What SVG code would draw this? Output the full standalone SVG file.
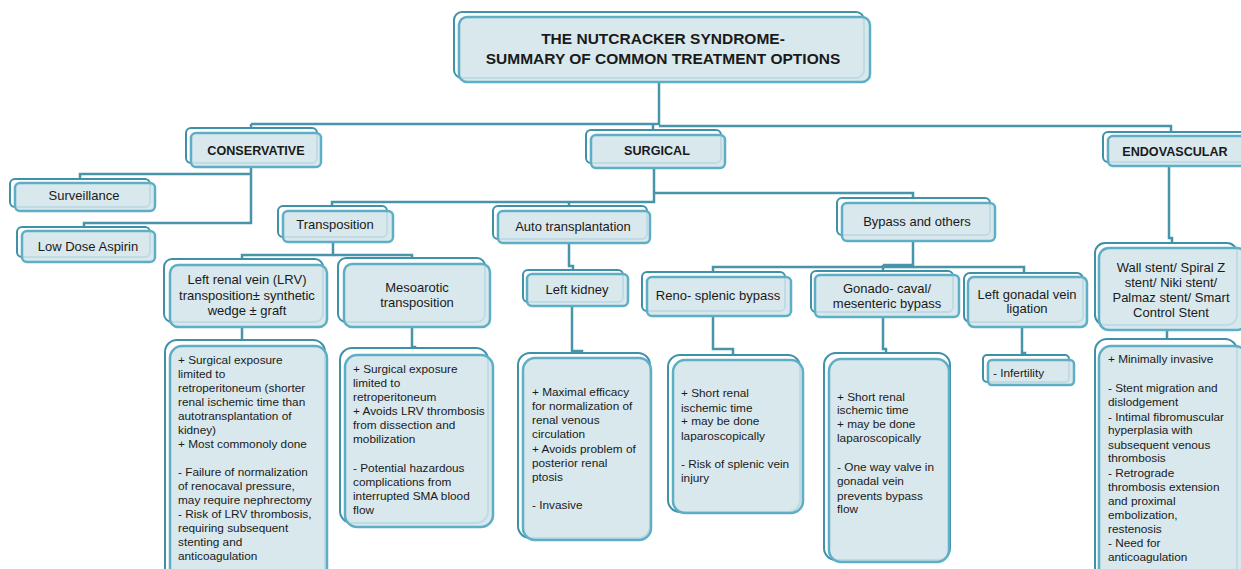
<svg xmlns="http://www.w3.org/2000/svg" width="1241" height="569" viewBox="0 0 1241 569">
<style>
.b{fill:#ffffff;stroke:#3f91a8;stroke-width:2}
.f{fill:#d3e5eb;fill-opacity:0.88;stroke:#5eaec6;stroke-width:2.5}
.c{fill:none;stroke:#4794ab;stroke-width:2.5}
text{font-family:"Liberation Sans",Arial,sans-serif;fill:#1a1a1a}
.h{font-size:15.5px;font-weight:bold;text-anchor:middle}
.k{font-size:12.6px;font-weight:bold;text-anchor:middle}
.n{font-size:13px;text-anchor:middle}
.d{font-size:11.8px}
</style>
<g id="connectors">
<path class="c" d="M659,82 V125"/>
<path class="c" d="M251,124 H659"/>
<path class="c" d="M659,126 H1171 V132"/>
<path class="c" d="M653,124 V130"/>
<path class="c" d="M251,124 V128"/>
<path class="c" d="M251,167 V223 H84 V227"/>
<path class="c" d="M251,174 H80 V179"/>
<path class="c" d="M654,168 V202 H332 V206"/>
<path class="c" d="M569,202 V206"/>
<path class="c" d="M654,193 H913 V198"/>
<path class="c" d="M333,242 V255 H242 V259"/>
<path class="c" d="M333,255 H412 V258"/>
<path class="c" d="M242,327 V340"/>
<path class="c" d="M412,327 V347 H415 V348"/>
<path class="c" d="M569,243 V266 H573 V270"/>
<path class="c" d="M572,306 V351 H582 V353"/>
<path class="c" d="M913,241 V267 H713 V272"/>
<path class="c" d="M913,267 H1024 V273"/>
<path class="c" d="M883,265 H913"/>
<path class="c" d="M883,265 V271"/>
<path class="c" d="M713,316 V349 H733 V355"/>
<path class="c" d="M883,317 V349 H886 V353"/>
<path class="c" d="M1022,327 V353 H1025 V355"/>
<path class="c" d="M1169,166 V238 H1172 V243"/>
<path class="c" d="M1167,330 V339"/>
</g>
<g id="title">
<rect class="b" x="454" y="12" width="410" height="66" rx="8"/>
<rect class="f" x="459" y="17" width="411" height="65" rx="8"/>
<text class="h" x="663" y="44">THE NUTCRACKER SYNDROME-</text>
<text class="h" x="663" y="64">SUMMARY OF COMMON TREATMENT OPTIONS</text>
</g>
<g id="conservative">
<rect class="b" x="186" y="128" width="131" height="35" rx="5"/>
<rect class="f" x="191" y="133" width="130" height="34" rx="5"/>
<text class="k" x="256" y="155">CONSERVATIVE</text>
</g>
<g id="surveillance">
<rect class="b" x="10" y="179" width="140" height="28" rx="5"/>
<rect class="f" x="15" y="183" width="140" height="28" rx="5"/>
<text class="n" x="84" y="200">Surveillance</text>
</g>
<g id="aspirin">
<rect class="b" x="17" y="227" width="133" height="30" rx="5"/>
<rect class="f" x="22" y="231" width="133" height="31" rx="5"/>
<text class="n" x="88" y="251">Low Dose Aspirin</text>
</g>
<g id="surgical">
<rect class="b" x="586" y="130" width="135" height="33" rx="5"/>
<rect class="f" x="591" y="135" width="134" height="33" rx="5"/>
<text class="k" x="657" y="155">SURGICAL</text>
</g>
<g id="endovascular">
<rect class="b" x="1103" y="132" width="145" height="30" rx="5"/>
<rect class="f" x="1108" y="136" width="145" height="30" rx="5"/>
<text class="k" x="1175" y="156">ENDOVASCULAR</text>
</g>
<g id="transposition">
<rect class="b" x="278" y="206" width="109" height="31" rx="5"/>
<rect class="f" x="283" y="211" width="110" height="31" rx="5"/>
<text class="n" x="335" y="229">Transposition</text>
</g>
<g id="autotransplantation">
<rect class="b" x="493" y="206" width="154" height="33" rx="5"/>
<rect class="f" x="498" y="211" width="152" height="32" rx="5"/>
<text class="n" x="573" y="231">Auto transplantation</text>
</g>
<g id="bypass">
<rect class="b" x="837" y="198" width="153" height="37" rx="5"/>
<rect class="f" x="842" y="203" width="153" height="38" rx="5"/>
<text class="n" x="917" y="226">Bypass and others</text>
</g>
<g id="lrv">
<rect class="b" x="164" y="259" width="159" height="63" rx="8"/>
<rect class="f" x="170" y="265" width="157" height="62" rx="8"/>
<text class="n" x="247" y="284">Left renal vein (LRV)</text>
<text class="n" x="247" y="300">transposition± synthetic</text>
<text class="n" x="247" y="315">wedge ± graft</text>
</g>
<g id="mesoarotic">
<rect class="b" x="338" y="258" width="147" height="64" rx="8"/>
<rect class="f" x="344" y="264" width="146" height="63" rx="8"/>
<text class="n" x="417" y="292">Mesoarotic</text>
<text class="n" x="417" y="307">transposition</text>
</g>
<g id="leftkidney">
<rect class="b" x="523" y="270" width="100" height="32" rx="5"/>
<rect class="f" x="527" y="274" width="101" height="32" rx="5"/>
<text class="n" x="577" y="294">Left kidney</text>
</g>
<g id="renosplenic">
<rect class="b" x="642" y="272" width="143" height="39" rx="5"/>
<rect class="f" x="647" y="277" width="144" height="39" rx="5"/>
<text class="n" x="718" y="300">Reno- splenic bypass</text>
</g>
<g id="gonadocaval">
<rect class="b" x="811" y="271" width="142" height="41" rx="5"/>
<rect class="f" x="815" y="275" width="144" height="42" rx="5"/>
<text class="n" x="887" y="293">Gonado- caval/</text>
<text class="n" x="887" y="308">mesenteric bypass</text>
</g>
<g id="leftgonadal">
<rect class="b" x="964" y="273" width="119" height="49" rx="6"/>
<rect class="f" x="968" y="277" width="119" height="50" rx="6"/>
<text class="n" x="1027" y="299">Left gonadal vein</text>
<text class="n" x="1027" y="313">ligation</text>
</g>
<g id="wallstent">
<rect class="b" x="1095" y="243" width="142" height="82" rx="10"/>
<rect class="f" x="1099" y="248" width="148" height="82" rx="10"/>
<text class="n" x="1171" y="272">Wall stent/ Spiral Z</text>
<text class="n" x="1171" y="287">stent/ Niki stent/</text>
<text class="n" x="1171" y="302">Palmaz stent/ Smart</text>
<text class="n" x="1171" y="317">Control Stent</text>
</g>
<g id="lrv-details">
<rect class="b" x="165" y="340" width="160" height="240" rx="12"/>
<rect class="f" x="170" y="346" width="157" height="240" rx="12"/>
<text class="d" x="178" y="364">+ Surgical exposure</text>
<text class="d" x="178" y="378">limited to</text>
<text class="d" x="178" y="392">retroperitoneum (shorter</text>
<text class="d" x="178" y="406">renal ischemic time than</text>
<text class="d" x="178" y="420">autotransplantation  of</text>
<text class="d" x="178" y="434">kidney)</text>
<text class="d" x="178" y="448">+ Most commonoly done</text>
<text class="d" x="178" y="476">- Failure of normalization</text>
<text class="d" x="178" y="490">of renocaval pressure,</text>
<text class="d" x="178" y="504">may require nephrectomy</text>
<text class="d" x="178" y="518">- Risk of LRV thrombosis,</text>
<text class="d" x="178" y="532">requiring subsequent</text>
<text class="d" x="178" y="546">stenting and</text>
<text class="d" x="178" y="560">anticoagulation</text>
</g>
<g id="mesoarotic-details">
<rect class="b" x="340" y="348" width="148" height="175" rx="12"/>
<rect class="f" x="345" y="355" width="148" height="172" rx="12"/>
<text class="d" x="353" y="373">+ Surgical exposure</text>
<text class="d" x="353" y="387">limited to</text>
<text class="d" x="353" y="401">retroperitoneum</text>
<text class="d" x="353" y="415">+ Avoids LRV thrombosis</text>
<text class="d" x="353" y="429">from dissection and</text>
<text class="d" x="353" y="443">mobilization</text>
<text class="d" x="353" y="472">- Potential hazardous</text>
<text class="d" x="353" y="486">complications from</text>
<text class="d" x="353" y="500">interrupted SMA blood</text>
<text class="d" x="353" y="514">flow</text>
</g>
<g id="leftkidney-details">
<rect class="b" x="518" y="353" width="132" height="185" rx="12"/>
<rect class="f" x="523" y="358" width="128" height="182" rx="12"/>
<text class="d" x="532" y="396">+ Maximal efficacy</text>
<text class="d" x="532" y="410">for normalization  of</text>
<text class="d" x="532" y="424">renal venous</text>
<text class="d" x="532" y="438">circulation</text>
<text class="d" x="532" y="453">+ Avoids problem of</text>
<text class="d" x="532" y="467">posterior renal</text>
<text class="d" x="532" y="481">ptosis</text>
<text class="d" x="532" y="509">- Invasive</text>
</g>
<g id="renosplenic-details">
<rect class="b" x="668" y="355" width="132" height="157" rx="12"/>
<rect class="f" x="673" y="360" width="130" height="153" rx="12"/>
<text class="d" x="681" y="397">+ Short renal</text>
<text class="d" x="681" y="412">ischemic time</text>
<text class="d" x="681" y="425">+ may be done</text>
<text class="d" x="681" y="440">laparoscopically</text>
<text class="d" x="681" y="468">- Risk of splenic vein</text>
<text class="d" x="681" y="482">injury</text>
</g>
<g id="gonadocaval-details">
<rect class="b" x="824" y="353" width="126" height="207" rx="12"/>
<rect class="f" x="829" y="359" width="120" height="203" rx="12"/>
<text class="d" x="837" y="401">+ Short renal</text>
<text class="d" x="837" y="414">ischemic time</text>
<text class="d" x="837" y="428">+ may be done</text>
<text class="d" x="837" y="442">laparoscopically</text>
<text class="d" x="837" y="471">- One way valve in</text>
<text class="d" x="837" y="485">gonadal vein</text>
<text class="d" x="837" y="500">prevents bypass</text>
<text class="d" x="837" y="513">flow</text>
</g>
<g id="infertility">
<rect class="b" x="983" y="355" width="86" height="27" rx="4"/>
<rect class="f" x="988" y="360" width="86" height="25" rx="4"/>
<text class="d" x="993" y="377">- Infertility</text>
</g>
<g id="endovascular-details">
<rect class="b" x="1095" y="339" width="142" height="240" rx="12"/>
<rect class="f" x="1099" y="346" width="148" height="240" rx="12"/>
<text class="d" x="1108" y="363">+ Minimally invasive</text>
<text class="d" x="1108" y="392">- Stent migration and</text>
<text class="d" x="1108" y="406">dislodgement</text>
<text class="d" x="1108" y="421">- Intimal  fibromuscular</text>
<text class="d" x="1108" y="434">hyperplasia with</text>
<text class="d" x="1108" y="449">subsequent venous</text>
<text class="d" x="1108" y="462">thrombosis</text>
<text class="d" x="1108" y="477">- Retrograde</text>
<text class="d" x="1108" y="491">thrombosis extension</text>
<text class="d" x="1108" y="505">and proximal</text>
<text class="d" x="1108" y="519">embolization,</text>
<text class="d" x="1108" y="533">restenosis</text>
<text class="d" x="1108" y="547">- Need for</text>
<text class="d" x="1108" y="561">anticoagulation</text>
</g>
</svg>
